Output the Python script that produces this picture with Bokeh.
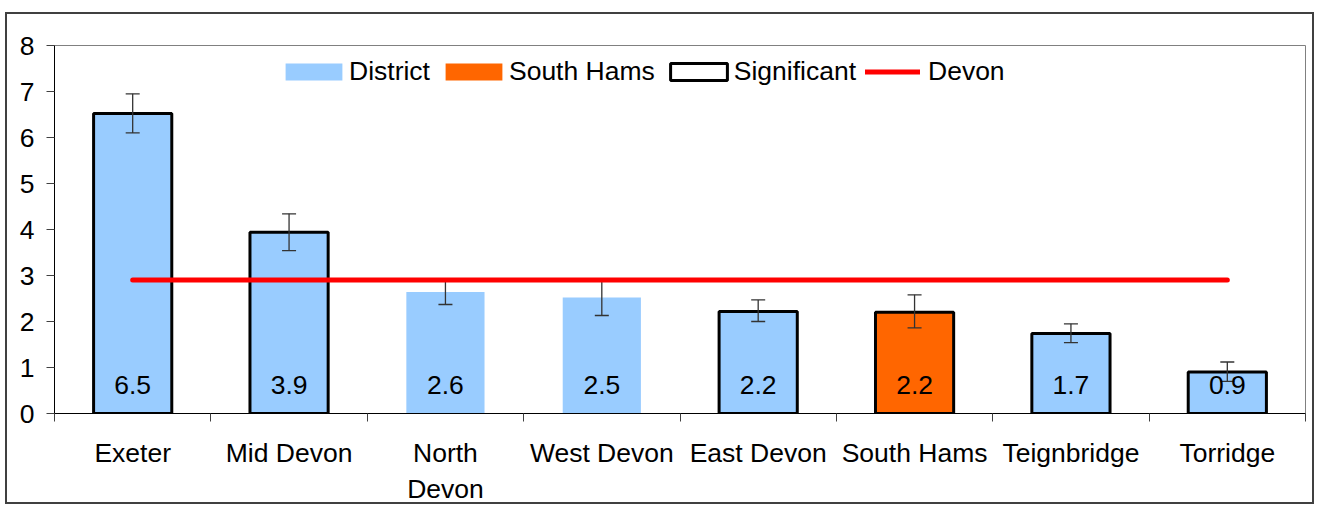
from bokeh.plotting import figure
from bokeh.models import (ColumnDataSource, Whisker, TeeHead, FixedTicker, Legend,
                          LegendItem, Range1d)
from bokeh.embed import file_html
from bokeh.resources import INLINE
from bokeh.core.properties import value

# ---- data ----
districts = ["Exeter", "Mid Devon", "North\nDevon", "West Devon", "East Devon",
             "South Hams", "Teignbridge", "Torridge"]
rates = [6.52, 3.94, 2.64, 2.52, 2.22, 2.20, 1.74, 0.90]
lower = [6.10, 3.54, 2.37, 2.13, 2.00, 1.86, 1.54, 0.70]
upper = [6.95, 4.34, 2.92, 2.90, 2.47, 2.58, 1.95, 1.12]
significant = [True, True, False, False, True, True, True, True]
highlight = "South Hams"
devon_rate = 2.9
y_ticks = [0, 1, 2, 3, 4, 5, 6, 7, 8]

# ---- style ----
FONT = "Liberation Sans"
FS = "26.5px"
C_DISTRICT = "#99CCFF"
C_HIGHLIGHT = "#FF6600"
C_DEVON = "#FF0000"

n = len(districts)
xs = [i + 0.5 for i in range(n)]
src = ColumnDataSource(dict(
    x=xs,
    top=rates,
    lower=lower,
    upper=upper,
    fill=[C_HIGHLIGHT if d == highlight else C_DISTRICT for d in districts],
    lc=["black" if s else None for s in significant],
    label=[f"{v:.1f}" for v in rates],
))

p = figure(width=1309, height=492, output_backend="svg", toolbar_location=None,
           x_range=Range1d(0, n), y_range=Range1d(y_ticks[0], y_ticks[-1]))
p.styles = {"border": "2px solid #404040", "margin-left": "5px", "margin-top": "12px"}
p.min_border_left = 47
p.min_border_top = 31
p.min_border_right = 11
p.min_border_bottom = 92
p.outline_line_color = "#808080"
p.outline_line_width = 1
p.grid.visible = False
p.background_fill_color = "white"
p.border_fill_color = "white"

bars = p.vbar(x="x", top="top", width=0.5, source=src, fill_color="fill",
              line_color="lc", line_width=3)

wh = Whisker(source=src, base="x", upper="upper", lower="lower",
             line_color="#333333", line_width=1.3, level="glyph",
             upper_head=TeeHead(size=14, line_color="#333333", line_width=1.3),
             lower_head=TeeHead(size=14, line_color="#333333", line_width=1.3))
p.renderers.append(wh)

devon_src = ColumnDataSource(dict(x=[xs[0], xs[-1]], y=[devon_rate, devon_rate]))
devon_line = p.line(x="x", y="y", source=devon_src, line_color=C_DEVON, line_width=5,
                    line_cap="round")

p.text(x="x", y=0, text="label", source=src, text_font=value(FONT),
       text_font_size=FS, text_align="center", text_baseline="alphabetic",
       y_offset=-29, text_color="black")

# legend proxies (zero-height, hidden under the first bar)
r_d = p.vbar(x=[xs[0]], top=[0], width=0.5, fill_color=C_DISTRICT, line_color=None)
r_h = p.vbar(x=[xs[0]], top=[0], width=0.5, fill_color=C_HIGHLIGHT, line_color=None)
r_s = p.vbar(x=[xs[0]], top=[0], width=0.5, fill_color="white", line_color="black",
             line_width=3)

common = dict(orientation="horizontal", padding=0, margin=0,
              background_fill_alpha=0, border_line_alpha=0,
              label_text_font=FONT, label_text_font_size=FS, label_text_color="black")

legend1 = Legend(items=[
    LegendItem(label="District", renderers=[r_d]),
    LegendItem(label="South Hams", renderers=[r_h]),
    LegendItem(label="Significant", renderers=[r_s]),
], location=(224, 326), glyph_width=71, glyph_height=21, label_standoff=0,
    spacing=8, **common)
p.add_layout(legend1)

legend2 = Legend(items=[
    LegendItem(label="Devon", renderers=[devon_line]),
], location=(811, 326), glyph_width=55, glyph_height=17, label_standoff=8,
    spacing=8, **common)
p.add_layout(legend2)

# axes
p.yaxis.ticker = FixedTicker(ticks=y_ticks, minor_ticks=[])
p.yaxis.major_tick_out = 8
p.yaxis.major_tick_in = 0
p.yaxis.major_tick_line_color = "#404040"
p.yaxis.axis_line_color = "black"
p.yaxis.major_label_standoff = 12
p.yaxis.major_label_text_font = FONT
p.yaxis.major_label_text_font_size = FS
p.yaxis.major_label_text_color = "black"

p.xaxis.ticker = FixedTicker(ticks=xs, minor_ticks=[i for i in range(n + 1)])
p.xaxis.major_label_overrides = {x: d for x, d in zip(xs, districts)}
p.xaxis.major_tick_out = 0
p.xaxis.major_tick_in = 0
p.xaxis.minor_tick_out = 8
p.xaxis.minor_tick_in = 0
p.xaxis.minor_tick_line_color = "#404040"
p.xaxis.axis_line_color = "black"
p.xaxis.major_label_standoff = 16
p.xaxis.major_label_text_font = FONT
p.xaxis.major_label_text_font_size = FS
p.xaxis.major_label_text_color = "black"

open("out.html", "w").write(file_html(p, INLINE))
